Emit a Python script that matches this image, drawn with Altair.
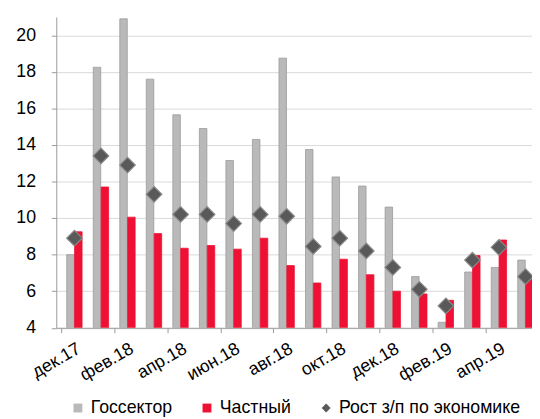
import altair as alt
import pandas as pd

months = ["дек.17", "янв.18", "фев.18", "мар.18", "апр.18", "май.18", "июн.18",
          "июл.18", "авг.18", "сен.18", "окт.18", "ноя.18", "дек.18", "янв.19",
          "фев.19", "мар.19", "апр.19", "май.19"]
gos = [8.0, 18.25, 20.9, 17.6, 15.65, 14.9, 13.15, 14.3, 18.75, 13.75, 12.25,
       11.75, 10.6, 6.8, 4.3, 7.05, 7.3, 7.7]
priv = [9.25, 11.7, 10.05, 9.15, 8.35, 8.5, 8.3, 8.9, 7.4, 6.45, 7.75, 6.9,
        6.0, 5.85, 5.5, 7.95, 8.8, 6.7]
econ = [8.9, 13.4, 12.9, 11.3, 10.2, 10.2, 9.7, 10.2, 10.1, 8.45, 8.9, 8.2,
        7.3, 6.1, 5.2, 7.7, 8.4, 6.8]
series = ["Госсектор", "Частный", "Рост з/п по экономике"]
colors = ["#b9b9b9", "#ee1133", "#595959"]
shapes = ["square", "square", "diamond"]
tick_pos = [-0.5, 1.5, 3.5, 5.5, 7.5, 9.5, 11.5, 13.5, 15.5]
label_pos = list(range(0, 17, 2))

n = len(months)
bars = pd.DataFrame({
    "idx": list(range(n)) * 2,
    "value": gos + priv,
    "series": [series[0]] * n + [series[1]] * n,
    "shift": [-0.15] * n + [0.146] * n,
})
pts = pd.DataFrame({"idx": list(range(n)), "value": econ, "series": [series[2]] * n})

FONT = "Liberation Sans"
x_scale = alt.Scale(domain=[-0.5, 17.06], nice=False, zero=False)
y_scale = alt.Scale(domain=[4, 21], nice=False, zero=False)
color_scale = alt.Scale(domain=series, range=colors)
shape_scale = alt.Scale(domain=series, range=shapes)

label_expr = "[" + ",".join("'" + m + "'" for m in months) + "][datum.value]"

x_axis_ticks = alt.Axis(values=tick_pos, labels=False, orient="bottom",
                        tickSize=5, tickColor="#9a9a9a", domainColor="#9a9a9a",
                        grid=False, title=None)
x_axis_labels = alt.Axis(values=label_pos, labelExpr=label_expr, orient="bottom",
                         ticks=False, tickSize=0, domain=False, labelAngle=-30,
                         labelAlign="right", labelBaseline="top", labelFontSize=18,
                         labelFont=FONT, labelColor="#000000", labelPadding=12,
                         grid=False, title=None, labelOverlap=False)
y_axis = alt.Axis(values=list(range(4, 21, 2)), grid=True, gridColor="#d9d9d9",
                  tickSize=5, tickColor="#9a9a9a", domainColor="#9a9a9a",
                  labelFontSize=18, labelFont=FONT, labelColor="#000000",
                  labelPadding=16, title=None)

legend = alt.Legend(orient="none", legendX=13, legendY=388, direction="horizontal",
                    title=None, labelFontSize=18, labelFont=FONT, labelColor="#000000",
                    symbolSize=81, columnPadding=26, labelOffset=4, labelLimit=0,
                    symbolStrokeWidth=0)

bar_layer = alt.Chart(bars).transform_calculate(
    xpos="datum.idx + datum.shift"
).mark_bar(size=7.6, clip=True, strokeWidth=0.8).encode(
    x=alt.X("xpos:Q", scale=x_scale, axis=x_axis_ticks),
    y=alt.Y("value:Q", scale=y_scale, axis=y_axis),
    y2=alt.datum(4),
    color=alt.Color("series:N", scale=color_scale, legend=legend),
    stroke=alt.condition(alt.datum.series == series[0], alt.value("#9a9a9a"),
                         alt.value("#ee1133")),
)

pt_layer = alt.Chart(pts).mark_point(filled=True, size=250, clip=True,
                                     stroke="#8a8a8a", strokeWidth=1.2,
                                     opacity=1).encode(
    x=alt.X("idx:Q", scale=x_scale, axis=x_axis_labels),
    y=alt.Y("value:Q", scale=y_scale, axis=y_axis),
    color=alt.Color("series:N", scale=color_scale, legend=legend),
    shape=alt.Shape("series:N", scale=shape_scale, legend=legend),
)

chart = alt.layer(bar_layer, pt_layer).resolve_axis(x="independent").properties(
    width=483, height=315.5,
    autosize=alt.AutoSizeParams(type="none"),
    padding={"left": 49, "top": 6, "right": 0, "bottom": 90},
).configure_view(stroke=None)

chart.save("out.html", embed_options={"renderer": "svg", "actions": False})
